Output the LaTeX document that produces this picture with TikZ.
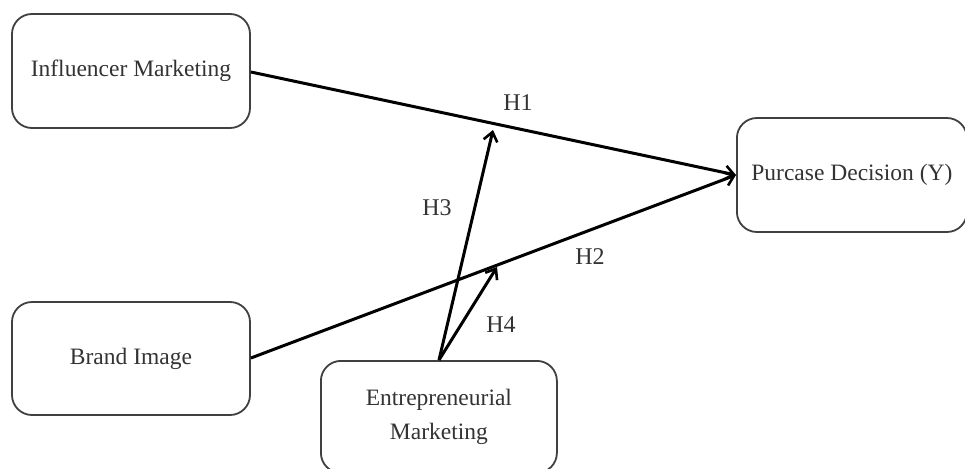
\documentclass[tikz,border=0pt]{standalone}
\usepackage{fontspec}
\setmainfont{Liberation Serif}
\usetikzlibrary{arrows.meta}
\begin{document}
\begin{tikzpicture}[x=1pt,y=-1pt,
  box/.style={draw=black!75,line width=1.8pt,rounded corners=20pt,fill=white,inner sep=0pt,align=center,font=\fontsize{23.5}{34}\selectfont,text=black!80},
  arr/.style={line width=3pt,-{Straight Barb[length=9pt,width=14pt,line width=2.6pt]}},
  lab/.style={font=\fontsize{24}{28}\selectfont,text=black!80}]
\useasboundingbox (0,0) rectangle (965,468);
\node[box,minimum width=238pt,minimum height=114pt] (inf) at (131,71) {Influencer Marketing};
\node[box,minimum width=230pt,minimum height=114pt,anchor=west] (pur) at (736,175) {Purcase Decision (Y)};
\node[box,minimum width=238pt,minimum height=113pt] (bra) at (131,358.5) {Brand Image};
\node[box,minimum width=236pt,minimum height=112pt,anchor=north west] (ent) at (320,360) {Entrepreneurial\\Marketing};
\coordinate (h1) at (493,130);
\coordinate (h2) at (497,267);
\coordinate (es) at (439,360);
\draw[arr] (inf.east |- 0,72) -- (pur.west);
\draw[arr] (bra.east |- 0,358) -- (pur.west);
\draw[arr] (es) -- (h1);
\draw[arr] (es) -- (h2);
\node[lab] (l1) at (518,103) {H1};
\node[lab] (l2) at (590,257) {H2};
\node[lab] (l3) at (437,208) {H3};
\node[lab] (l4) at (501,325) {H4};
\end{tikzpicture}
\end{document}
